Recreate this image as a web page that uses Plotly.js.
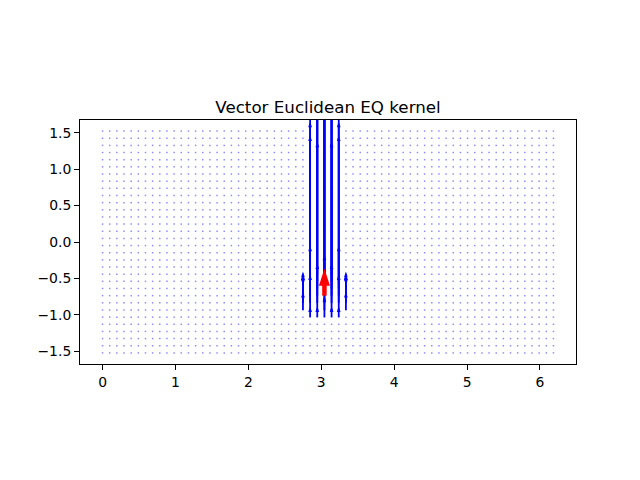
<!DOCTYPE html>
<html>
<head>
<meta charset="utf-8">
<script src="https://cdn.plot.ly/plotly-3.0.1.min.js"></script>
<style>
  html, body { margin: 0; padding: 0; background: #fff; }
  #plot { width: 640px; height: 480px; }
</style>
</head>
<body>
<div id="plot"></div>
<script>
// Grid of evaluation points (longitude-like x, latitude-like y)
const xGrid = [
  0.0000, 0.0982, 0.1963, 0.2945, 0.3927, 0.4909, 0.5890, 0.6872,
  0.7854, 0.8836, 0.9817, 1.0799, 1.1781, 1.2763, 1.3744, 1.4726,
  1.5708, 1.6690, 1.7671, 1.8653, 1.9635, 2.0617, 2.1598, 2.2580,
  2.3562, 2.4544, 2.5525, 2.6507, 2.7489, 2.8471, 2.9452, 3.0434,
  3.1416, 3.2398, 3.3379, 3.4361, 3.5343, 3.6325, 3.7306, 3.8288,
  3.9270, 4.0252, 4.1233, 4.2215, 4.3197, 4.4179, 4.5160, 4.6142,
  4.7124, 4.8106, 4.9087, 5.0069, 5.1051, 5.2033, 5.3014, 5.3996,
  5.4978, 5.5960, 5.6941, 5.7923, 5.8905, 5.9887, 6.0868, 6.1850
];
const yGrid = [
  -1.5217, -1.4235, -1.3254, -1.2272, -1.1290, -1.0308, -0.9327, -0.8345,
  -0.7363, -0.6381, -0.5400, -0.4418, -0.3436, -0.2454, -0.1473, -0.0491,
   0.0491,  0.1473,  0.2454,  0.3436,  0.4418,  0.5400,  0.6381,  0.7363,
   0.8345,  0.9327,  1.0308,  1.1290,  1.2272,  1.3254,  1.4235,  1.5217
];

// Columns and rows that carry visible arrows (all point straight up)
const arrowCols = [2.7489, 2.8471, 2.9452, 3.0434, 3.1416, 3.2398, 3.3379];
const arrowRows = [-1.0308, -0.9327, -0.8345, -0.7363, -0.6381, -0.5400, -0.4418];

// Arrow lengths per column, one value per entry of arrowRows
const len28 = [0.00, 0.25, 0.39, 0.33, 0.20, 0.08, 0.00];
const len29 = [0.15, 0.49, 2.30, 3.20, 2.29, 0.49, 0.00];
const len30 = [0.15, 3.00, 3.20, 3.20, 3.00, 1.92, 0.15];
const len31 = [0.29, 3.20, 3.20, 3.20, 3.20, 3.20, 0.27];
const len32 = [0.15, 3.00, 3.20, 3.20, 3.00, 1.92, 0.15];
const len33 = [0.15, 0.49, 2.30, 3.20, 2.29, 0.49, 0.00];
const len34 = [0.00, 0.25, 0.39, 0.33, 0.20, 0.08, 0.00];
const arrowLengths = [len28, len29, len30, len31, len32, len33, len34];

// Reference vector (red)
const refPoint = [3.0434, -0.7363];
const refVector = [0, 0.37];

// zero-size vectors are drawn as small dots
const dotX = [], dotY = [];
xGrid.forEach(x => yGrid.forEach(y => { dotX.push(x); dotY.push(y); }));

const shaftX = [], shaftY = [], headX = [], headY = [];
arrowCols.forEach((x, c) => {
    arrowLengths[c].forEach((L, r) => {
        if (L <= 0) return;
        const y0 = arrowRows[r];
        shaftX.push(x, x, null);
        shaftY.push(y0, y0 + L - 0.04, null);
        headX.push(x);
        headY.push(y0 + L);
    });
});

const refTip = [refPoint[0] + refVector[0], refPoint[1] + refVector[1]];

const data = [
    {
        x: dotX, y: dotY, type: 'scatter', mode: 'markers',
        marker: { symbol: 'square', size: 1.5, color: 'rgba(0,0,255,0.45)', line: { width: 0 } },
        hoverinfo: 'skip'
    },
    {
        x: shaftX, y: shaftY, type: 'scatter', mode: 'lines',
        line: { color: '#0000ff', width: 1.8 },
        hoverinfo: 'skip'
    },
    {
        x: headX, y: headY, type: 'scatter', mode: 'markers',
        marker: { symbol: 'arrow', angle: 0, size: 6, color: '#0000ff', line: { width: 0 } },
        hoverinfo: 'skip'
    },
    {
        x: [refPoint[0], refTip[0]], y: [refPoint[1], refTip[1] - 0.2],
        type: 'scatter', mode: 'lines',
        line: { color: '#ff0000', width: 4.5 },
        hoverinfo: 'skip'
    },
    {
        x: [refTip[0]], y: [refTip[1]], type: 'scatter', mode: 'markers',
        marker: { symbol: 'arrow', angle: 0, size: 18, color: '#ff0000', line: { width: 0 } },
        hoverinfo: 'skip'
    }
];

const tickFont = { family: 'DejaVu Sans', size: 13.9, color: '#000' };
const axisCommon = {
    showgrid: false, zeroline: false,
    showline: true, mirror: true, linecolor: '#000', linewidth: 1,
    ticks: 'outside', ticklen: 5, tickwidth: 1, tickcolor: '#000',
    tickfont: tickFont, fixedrange: true
};

const layout = {
    width: 640, height: 480,
    paper_bgcolor: '#fff', plot_bgcolor: '#fff',
    margin: { l: 80, r: 64, t: 120, b: 116 },
    showlegend: false,
    title: {
        text: 'Vector Euclidean EQ kernel',
        font: { family: 'DejaVu Sans', size: 16.7, color: '#000' },
        x: 0.5, xref: 'paper', xanchor: 'center',
        y: 1 - 107 / 480, yref: 'container', yanchor: 'middle'
    },
    xaxis: Object.assign({}, axisCommon, {
        range: [-0.30925, 6.49425],
        tickvals: [0, 1, 2, 3, 4, 5, 6],
        ticktext: ['0', '1', '2', '3', '4', '5', '6']
    }),
    yaxis: Object.assign({}, axisCommon, {
        range: [-1.6739, 1.6739],
        tickvals: [-1.5, -1.0, -0.5, 0.0, 0.5, 1.0, 1.5],
        ticktext: ['\u22121.5', '\u22121.0', '\u22120.5', '0.0', '0.5', '1.0', '1.5']
    })
};

Plotly.newPlot('plot', data, layout, { staticPlot: true });
</script>
</body>
</html>
